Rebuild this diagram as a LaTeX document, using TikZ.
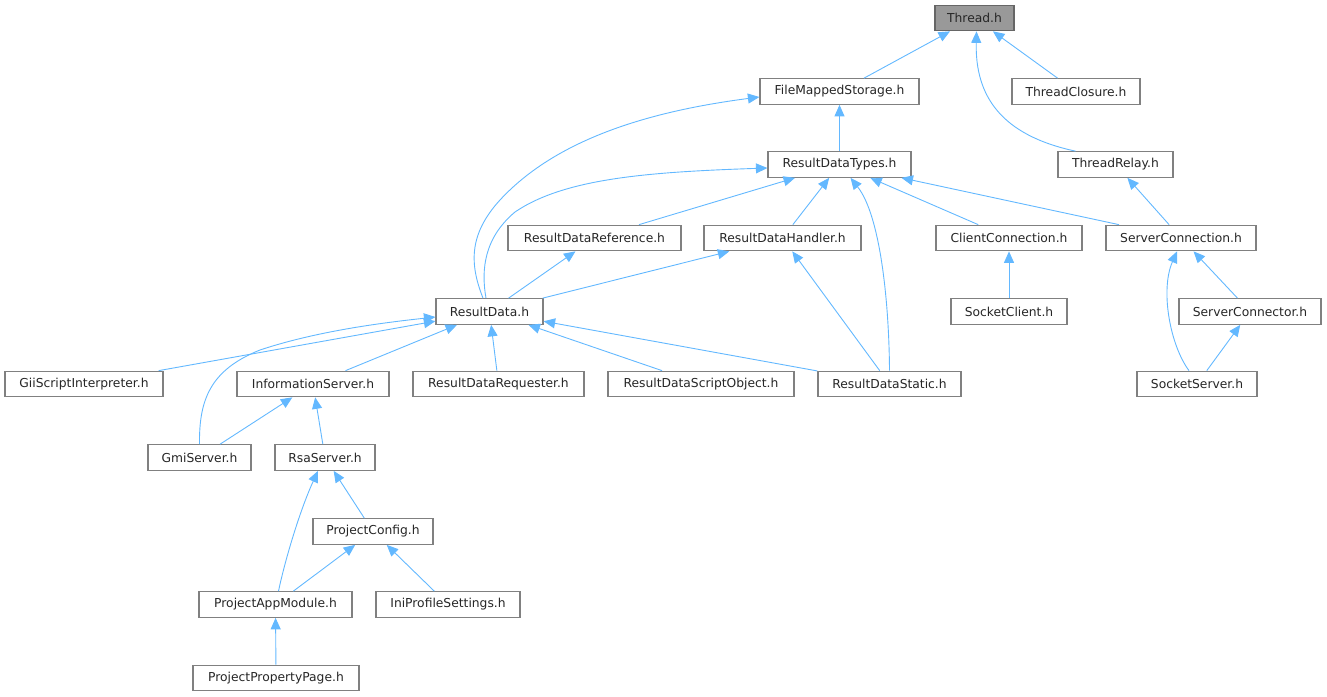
\documentclass[tikz,border=0pt]{standalone}
\usepackage{fontspec}
\setmainfont{DejaVu Sans}
\usetikzlibrary{arrows.meta}
\definecolor{edgeblue}{HTML}{63B8FF}
\definecolor{boxgray}{HTML}{808080}
\definecolor{rootgray}{HTML}{999999}
\definecolor{rootborder}{HTML}{666666}
\tikzset{
  box/.style={draw=boxgray, fill=white, line width=1.2pt, minimum height=25.5pt, inner sep=0pt,
    font=\fontsize{12.3}{14}\selectfont, text=black!85},
  rootbox/.style={box, fill=rootgray, draw=rootborder},
  edge/.style={draw=edgeblue, line width=0.9pt, -{Triangle[length=11.5pt,width=10pt]}}
}
\begin{document}
\begin{tikzpicture}[x=1pt,y=-1pt]
\useasboundingbox (0,0) rectangle (1327,696);
% nodes
\node[rootbox, minimum width=79pt] (thread) at (974.5,18) {Thread.h};
\node[box, minimum width=159pt] (fms) at (839.5,91.5) {FileMappedStorage.h};
\node[box, minimum width=128pt] (tclosure) at (1076,91.5) {ThreadClosure.h};
\node[box, minimum width=143pt] (rdtypes) at (839.5,164.5) {ResultDataTypes.h};
\node[box, minimum width=115pt] (trelay) at (1115.5,164.5) {ThreadRelay.h};
\node[box, minimum width=173pt] (rdref) at (594.5,238) {ResultDataReference.h};
\node[box, minimum width=157pt] (rdhandler) at (782.5,238) {ResultDataHandler.h};
\node[box, minimum width=146pt] (cconn) at (1009,238) {ClientConnection.h};
\node[box, minimum width=150pt] (sconn) at (1181,238) {ServerConnection.h};
\node[box, minimum width=107pt] (rd) at (489.5,311.5) {ResultData.h};
\node[box, minimum width=116pt] (sclient) at (1009,311.5) {SocketClient.h};
\node[box, minimum width=142pt] (sconnector) at (1250,311.5) {ServerConnector.h};
\node[box, minimum width=158pt] (gii) at (84,384) {GiiScriptInterpreter.h};
\node[box, minimum width=152pt] (info) at (313,384) {InformationServer.h};
\node[box, minimum width=171pt] (rdreq) at (498.5,384) {ResultDataRequester.h};
\node[box, minimum width=186pt] (rdscript) at (701,384) {ResultDataScriptObject.h};
\node[box, minimum width=143pt] (rdstatic) at (889.5,384) {ResultDataStatic.h};
\node[box, minimum width=120pt] (sserver) at (1197,384) {SocketServer.h};
\node[box, minimum width=103pt] (gmi) at (199.5,457.5) {GmiServer.h};
\node[box, minimum width=100pt] (rsa) at (325,457.5) {RsaServer.h};
\node[box, minimum width=120pt] (pconfig) at (373,531.5) {ProjectConfig.h};
\node[box, minimum width=153pt] (pam) at (275.5,604.5) {ProjectAppModule.h};
\node[box, minimum width=144pt] (ini) at (448,604.5) {IniProfileSettings.h};
\node[box, minimum width=166pt] (ppp) at (276,678) {ProjectPropertyPage.h};
% straight edges (child -> parent)
\draw[edge] (fms) -- (thread);
\draw[edge] (tclosure) -- (thread);
\draw[edge] (rdtypes) -- (fms);
\draw[edge] (rdref) -- (rdtypes);
\draw[edge] (rdhandler) -- (rdtypes);
\draw[edge] (cconn) -- (rdtypes);
\draw[edge] (sconn) -- (rdtypes);
\draw[edge] (sconn) -- (trelay);
\draw[edge] (rd) -- (rdref);
\draw[edge] (rd) -- (rdhandler);
\draw[edge] (rdstatic) -- (rdhandler);
\draw[edge] (sclient) -- (cconn);
\draw[edge] (sconnector) -- (sconn);
\draw[edge] (sserver) -- (sconnector);
\draw[edge] (gii) -- (rd);
\draw[edge] (info) -- (rd);
\draw[edge] (rdreq) -- (rd);
\draw[edge] (rdscript) -- (rd);
\draw[edge] (rdstatic) -- (rd);
\draw[edge] (gmi) -- (info);
\draw[edge] (rsa) -- (info);
\draw[edge] (pconfig) -- (rsa);
\draw[edge] (pam) -- (pconfig);
\draw[edge] (ini) -- (pconfig);
\draw[edge] (ppp) -- (pam);
% curved edges
\draw[edge] ([xshift=-40pt]trelay.north) .. controls (1000,135) and (975,95) .. ([xshift=2pt]thread.south);
\draw[edge] ([xshift=-6.5pt]rd.north) .. controls (470,265) and (468,235) .. (500,200)
  .. controls (560,135) and (660,110) .. ([yshift=-5.5pt]fms.west);
\draw[edge] ([xshift=-3.5pt]rd.north) .. controls (481,270) and (484,238) .. (515,212)
  .. controls (565,178) and (650,172) .. ([yshift=-3.5pt]rdtypes.west);
\draw[edge] (rdstatic.north) .. controls (889,300) and (880,215) .. ([xshift=11pt]rdtypes.south);
\draw[edge] ([xshift=-8pt]sserver.north) .. controls (1170,345) and (1160,290) .. ([xshift=-4pt]sconn.south);
\draw[edge] (gmi.north) .. controls (199,400) and (210,370) .. (260,350)
  .. controls (320,330) and (390,322) .. ([yshift=-5.5pt]rd.west);
\draw[edge] ([xshift=3pt]pam.north) .. controls (285,560) and (300,510) .. ([xshift=-7pt]rsa.south);
\end{tikzpicture}
\end{document}
